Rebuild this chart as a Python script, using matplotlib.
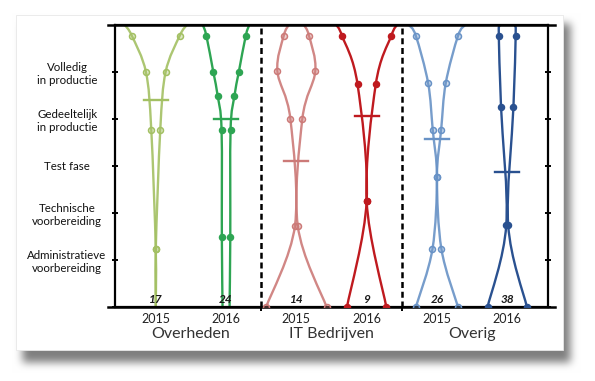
import matplotlib
matplotlib.use("Agg")
import matplotlib.pyplot as plt
import numpy as np
from matplotlib.path import Path
from matplotlib.patches import PathPatch, Rectangle
from matplotlib.colors import to_rgba

# categorieen
groepen = ["Overheden", "IT Bedrijven", "Overig"]
jaren = ["2015", "2016", "2015", "2016", "2015", "2016"]
fasen = ["", "Administratieve\nvoorbereiding", "Technische\nvoorbereiding",
         "Test fase", "Gedeeltelijk\nin productie", "Volledig\nin productie"]
aantallen = [17, 24, 14, 9, 26, 38]
gemiddelden = [4.4, 4.0, 3.11, 4.06, 3.57, 2.88]

# bonen: niveau (y), halve breedte, wel/geen marker
ov15_y = [6.0, 5.77, 5.0, 3.77, 1.23, 0.0]
ov15_w = [0.44, 0.34, 0.14, 0.064, 0.0, 0.0]
ov15_m = [0, 1, 1, 1, 1, 0]

ov16_y = [6.0, 5.77, 4.99, 4.5, 3.77, 1.48, 0.0]
ov16_w = [0.33, 0.28, 0.18, 0.12, 0.064, 0.06, 0.05]
ov16_m = [0, 1, 1, 1, 1, 1, 0]

it15_y = [6.0, 5.77, 5.02, 4.0, 1.73, 0.0]
it15_w = [0.11, 0.18, 0.27, 0.085, 0.02, 0.43]
it15_m = [0, 1, 1, 1, 1, 1]

it16_y = [6.0, 5.77, 4.74, 2.26, 0.0]
it16_w = [0.43, 0.35, 0.13, 0.0, 0.28]
it16_m = [0, 1, 1, 1, 1]

og15_y = [6.0, 5.77, 4.76, 3.77, 2.76, 1.23, 0.0]
og15_w = [0.40, 0.30, 0.125, 0.06, 0.0, 0.064, 0.30]
og15_m = [0, 1, 1, 1, 1, 1, 1]

og16_y = [6.0, 5.77, 4.25, 1.74, 0.0]
og16_w = [0.11, 0.12, 0.088, 0.014, 0.28]
og16_m = [0, 1, 1, 1, 1]

bonen = [(ov15_y, ov15_w, ov15_m), (ov16_y, ov16_w, ov16_m),
         (it15_y, it15_w, it15_m), (it16_y, it16_w, it16_m),
         (og15_y, og15_w, og15_m), (og16_y, og16_w, og16_m)]
kleuren = ["#a3c063", "#2ea553", "#cc7a78", "#bf1a1f", "#6892c6", "#2a5190"]
licht = [True, False, True, False, True, False]


def glad_pad(xs, ys):
    # catmull-rom -> bezier, zodat matplotlib zelf de kromme tekent
    pts = np.column_stack([xs, ys])
    n = len(pts)
    verts = [pts[0]]
    codes = [Path.MOVETO]
    for i in range(n - 1):
        p0 = pts[max(i - 1, 0)]
        p1 = pts[i]
        p2 = pts[i + 1]
        p3 = pts[min(i + 2, n - 1)]
        verts += [p1 + (p2 - p0) / 6, p2 - (p3 - p1) / 6, p2]
        codes += [Path.CURVE4] * 3
    return Path(verts, codes)


W, H = 595, 381
fig = plt.figure(figsize=(W / 100, H / 100), dpi=100)
fig.patch.set_facecolor("white")

# achtergrond met schaduw-kaart
bg = fig.add_axes([0, 0, 1, 1])
yy, xx = np.mgrid[0:H, 0:W]
mask = ((xx >= 21) & (xx <= 568) & (yy >= 22) & (yy <= 360)).astype(float)
kern = np.ones(8) / 8
for _ in range(3):
    mask = np.apply_along_axis(lambda r: np.convolve(r, kern, mode="same"), 1, mask)
    mask = np.apply_along_axis(lambda r: np.convolve(r, kern, mode="same"), 0, mask)
grijs = 1 - 0.5 * mask
bg.imshow(np.dstack([grijs, grijs, grijs]), extent=[0, W, H, 0], aspect="auto")
bg.add_patch(Rectangle((16, 15), 547, 335, facecolor="white", edgecolor="#e8e8e8", lw=0.6))
bg.set_xlim(0, W)
bg.set_ylim(H, 0)
bg.axis("off")

ax = fig.add_axes([115 / W, 1 - 307 / H, 433 / W, 282 / H])
ax.set_facecolor("white")
ax.set_xlim(0.42, 6.58)
ax.set_ylim(0, 6)

for i, (ys, ws, ms) in enumerate(bonen):
    c = i + 1
    kl = kleuren[i]
    ys = np.array(ys)
    ws = np.array(ws)
    for kant in (-1, 1):
        ax.add_patch(PathPatch(glad_pad(c + kant * ws, ys), fill=False,
                               edgecolor=kl, lw=1.7, alpha=0.9 if licht[i] else 1))
    m = np.array(ms) == 1
    fc = to_rgba(kl, 0.35) if licht[i] else kl
    for kant in (-1, 1):
        ax.plot(c + kant * ws[m], ys[m], "o", ms=4.3, mec=kl, mew=1.1,
                mfc=fc, zorder=3)
    ax.plot([c - 0.17, c + 0.17], [gemiddelden[i], gemiddelden[i]], color=kl, lw=1.7)
    ax.text(c, 0.05, str(aantallen[i]), ha="center", va="bottom", fontsize=8.5,
            fontweight="bold", fontstyle="italic", family="Lato", color="#1a1a1a", zorder=4)

# scheidingslijnen tussen de groepen
for xs in [2.5, 4.5]:
    ax.axvline(xs, color="black", lw=1.8, ls=(0, (2.4, 1.5)))

for s in ax.spines.values():
    s.set_linewidth(1.6)
    s.set_color("black")
ax.plot([-0.017, 1.017], [1, 1], transform=ax.transAxes, clip_on=False, color="black", lw=1.8)
ax.plot([-0.017, 1.017], [0, 0], transform=ax.transAxes, clip_on=False, color="black", lw=1.8)

ax.set_yticks(range(6))
ax.set_yticklabels(fasen, fontsize=8.3, family="Lato", color="#111111")
for lab in ax.get_yticklabels():
    lab.set_ha("center")
    lab.set_multialignment("center")
ax.tick_params(axis="y", direction="inout", length=5, width=1.4, right=True, pad=32)

ax.set_xticks(range(1, 7))
ax.set_xticklabels(jaren, fontsize=9, family="Lato", color="#222222")
ax.tick_params(axis="x", length=0, pad=4)
ax.set_xticks([2.5, 4.5], minor=True)
ax.tick_params(axis="x", which="minor", direction="out", length=3, width=1.4)

for g, naam in enumerate(groepen):
    ax.text(1.5 + 2 * g, -0.097, naam, transform=ax.get_xaxis_transform(),
            ha="center", va="center", fontsize=11.5, family="Lato", color="#333333")

fig.savefig("out.png", dpi=100)
